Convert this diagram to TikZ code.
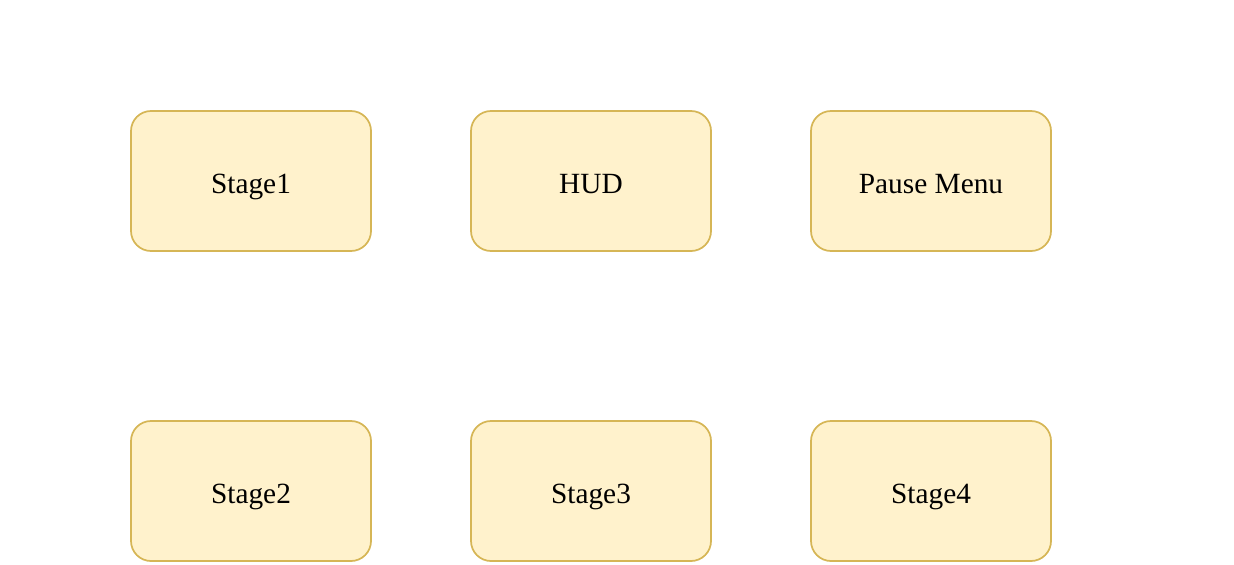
\documentclass[tikz,border=0pt]{standalone}
\usepackage{fontspec}
\setmainfont{Liberation Serif}
\usepackage{pgf,tikz}
\usetikzlibrary{arrows}
\usetikzlibrary{positioning}
\definecolor{boxfill}{HTML}{FFF2CC}
\definecolor{boxline}{HTML}{D6B656}
\tikzset{screen/.style={draw=boxline,fill=boxfill,line width=1.3pt,rounded corners=15pt,minimum width=180pt,minimum height=105pt,inner sep=0pt,text height=20pt,text depth=2pt,font=\fontsize{22}{26}\selectfont}}
\begin{document}
\begin{tikzpicture}[line cap=round,line join=round,x=0.75pt,y=0.75pt]
\useasboundingbox (0,0) rectangle (1234,-564);
\node[screen] (stageone) at (251,-181) {Stage1};
\node[screen] (hud) at (591,-181) {HUD};
\node[screen] (pause) at (931,-181) {Pause Menu};
\node[screen] (stagetwo) at (251,-491) {Stage2};
\node[screen] (stagethree) at (591,-491) {Stage3};
\node[screen] (stagefour) at (931,-491) {Stage4};
\end{tikzpicture}
\end{document}
